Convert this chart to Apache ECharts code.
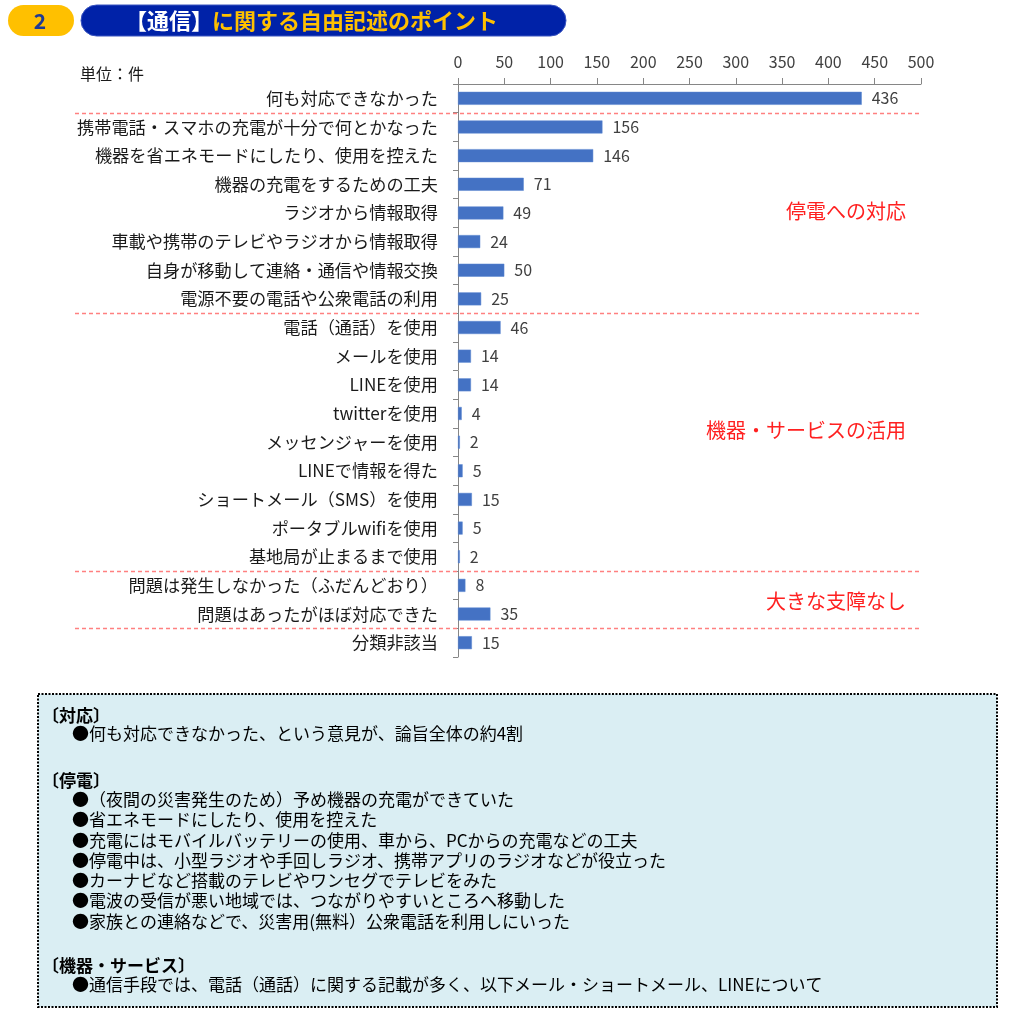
<!DOCTYPE html>
<html>
<head>
<meta charset="utf-8">
<script src="https://cdn.jsdelivr.net/npm/echarts@6/dist/echarts.min.js"></script>
<style>
  html, body { margin: 0; padding: 0; background: #fff; }
  #main { width: 1024px; height: 1017px; }
</style>
</head>
<body>
<div id="main"></div>
<script>
var FONT = '"Noto Sans CJK JP", "Noto Sans", sans-serif';

// 分類
var categories = [
    '何も対応できなかった',
    '携帯電話・スマホの充電が十分で何とかなった',
    '機器を省エネモードにしたり、使用を控えた',
    '機器の充電をするための工夫',
    'ラジオから情報取得',
    '車載や携帯のテレビやラジオから情報取得',
    '自身が移動して連絡・通信や情報交換',
    '電源不要の電話や公衆電話の利用',
    '電話（通話）を使用',
    'メールを使用',
    'LINEを使用',
    'twitterを使用',
    'メッセンジャーを使用',
    'LINEで情報を得た',
    'ショートメール（SMS）を使用',
    'ポータブルwifiを使用',
    '基地局が止まるまで使用',
    '問題は発生しなかった（ふだんどおり）',
    '問題はあったがほぼ対応できた',
    '分類非該当'
];
// 件数
var counts = [436, 156, 146, 71, 49, 24, 50, 25, 46, 14, 14, 4, 2, 5, 15, 5, 2, 8, 35, 15];
// 目盛
var xTicks = [0, 50, 100, 150, 200, 250, 300, 350, 400, 450, 500];
// グループの区切り（この分類から新しいグループ）
var groupStarts = [1, 8, 17, 19];
var groupNames = ['停電への対応', '機器・サービスの活用', '大きな支障なし'];

// 囲みの文章
var noteLines = [
    { t: '〔対応〕', b: true },
    { t: '●何も対応できなかった、という意見が、論旨全体の約4割' },
    { t: '' },
    { t: '〔停電〕', b: true },
    { t: '●（夜間の災害発生のため）予め機器の充電ができていた' },
    { t: '●省エネモードにしたり、使用を控えた' },
    { t: '●充電にはモバイルバッテリーの使用、車から、PCからの充電などの工夫' },
    { t: '●停電中は、小型ラジオや手回しラジオ、携帯アプリのラジオなどが役立った' },
    { t: '●カーナビなど搭載のテレビやワンセグでテレビをみた' },
    { t: '●電波の受信が悪い地域では、つながりやすいところへ移動した' },
    { t: '●家族との連絡などで、災害用(無料）公衆電話を利用しにいった' },
    { t: '' },
    { t: '〔機器・サービス〕', b: true },
    { t: '●通信手段では、電話（通話）に関する記載が多く、以下メール・ショートメール、LINEについて' }
];

var myChart = echarts.init(document.getElementById('main'));

var option = {
    animation: false,
    textStyle: { fontFamily: FONT },
    grid: {
        left: 458,
        top: 84,
        width: 463,
        height: 573
    },
    xAxis: {
        type: 'value',
        position: 'top',
        min: 0,
        max: 500,
        interval: 50,
        axisLine: { show: true, lineStyle: { color: '#868686' } },
        axisTick: { show: true, length: 6, lineStyle: { color: '#868686' } },
        splitLine: { show: false },
        axisLabel: {
            margin: 14,
            color: '#404040',
            fontSize: 16,
            fontFamily: FONT,
            formatter: function (v) { return xTicks.indexOf(v) >= 0 ? String(v) : ''; }
        }
    },
    yAxis: {
        type: 'category',
        inverse: true,
        data: categories,
        axisLine: { show: true, lineStyle: { color: '#868686' } },
        axisTick: { show: true, length: 5, lineStyle: { color: '#868686' } },
        axisLabel: {
            margin: 20,
            color: '#1a1a1a',
            fontSize: 17.2,
            fontFamily: FONT
        }
    },
    series: [{
        type: 'bar',
        data: counts,
        barWidth: 13,
        itemStyle: { color: '#4472C4', borderColor: '#5b86d0', borderWidth: 0.5 },
        label: {
            show: true,
            position: 'right',
            distance: 10,
            color: '#404040',
            fontSize: 16,
            fontFamily: FONT
        }
    }]
};
myChart.setOption(option);

// 図形の追加
var g = [];

// 見出し
g.push({ type: 'rect', shape: { x: 8, y: 5, width: 66, height: 31, r: 15.5 }, style: { fill: '#FFC000' } });
g.push({ type: 'text', style: { text: '2', x: 40, y: 21, fill: '#1F3A93', font: 'bold 21px ' + FONT, textAlign: 'center', textVerticalAlign: 'middle' } });
g.push({ type: 'rect', shape: { x: 81, y: 5, width: 485, height: 31, r: 15.5 }, style: { fill: '#0022A8', stroke: '#3a55c0', lineWidth: 1 } });
g.push({ type: 'text', style: { text: '【通信】', x: 125, y: 21, fill: '#ffffff', font: 'bold 22px ' + FONT, textAlign: 'left', textVerticalAlign: 'middle' } });
g.push({ type: 'text', style: { text: 'に関する自由記述のポイント', x: 212, y: 21, fill: '#FFC000', font: 'bold 22px ' + FONT, textAlign: 'left', textVerticalAlign: 'middle' } });

// 単位
g.push({ type: 'text', style: { text: '単位：件', x: 80, y: 74, fill: '#1a1a1a', font: '16px ' + FONT, textAlign: 'left', textVerticalAlign: 'middle' } });

// グループ区切りの点線
function boundaryY(idx) {
    var a = myChart.convertToPixel({ yAxisIndex: 0 }, idx - 1);
    var b = myChart.convertToPixel({ yAxisIndex: 0 }, idx);
    return (a + b) / 2;
}
groupStarts.forEach(function (s) {
    var y = Math.round(boundaryY(s)) + 0.5;
    g.push({
        type: 'line',
        shape: { x1: 75, y1: y, x2: 922, y2: y },
        style: { stroke: '#FF8080', lineWidth: 1.5, lineDash: [4, 3] },
        z: 10
    });
});

// グループ名
var groupY = [211, 430, 601];
groupNames.forEach(function (name, i) {
    g.push({ type: 'text', style: { text: name, x: 906, y: groupY[i], fill: '#FF2020', font: '20px ' + FONT, textAlign: 'right', textVerticalAlign: 'middle' } });
});

// 囲み
g.push({ type: 'rect', shape: { x: 38, y: 694, width: 959, height: 313 }, style: { fill: '#DAEEF3', stroke: '#000', lineWidth: 2, lineDash: [2, 1.5] } });
var lineY = [716, 734, 0, 781, 800, 820, 841, 861, 881, 901, 922, 0, 966, 985];
noteLines.forEach(function (ln, i) {
    if (!ln.t) return;
    g.push({
        type: 'text',
        style: {
            text: ln.t,
            x: ln.b ? 42 : 72,
            y: lineY[i],
            fill: '#000',
            font: (ln.b ? 'bold ' : '') + '17px ' + FONT,
            textAlign: 'left',
            textVerticalAlign: 'middle'
        }
    });
});

myChart.setOption({ graphic: g });
</script>
</body>
</html>
